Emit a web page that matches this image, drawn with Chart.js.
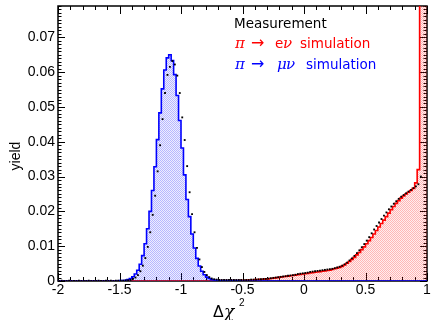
<!DOCTYPE html>
<html>
<head>
<meta charset="utf-8">
<script src="https://cdn.jsdelivr.net/npm/chart.js@4.4.1/dist/chart.umd.min.js"></script>
<style>
  html, body { margin: 0; padding: 0; background: #fff; }
  #wrap { width: 431px; height: 320px; }
</style>
</head>
<body>
<div id="wrap"><canvas id="chart"></canvas></div>
<script>
// 150 bins of 0.02 from -2 to 1
const binStart = -2;
const binWidth = 0.02;

// pi -> mu nu simulation (blue)
const muNuSim = [
  0, 0, 0, 0, 0, 0, 0, 0, 0, 0,
  0, 0, 0, 0, 0, 0, 0, 0, 0, 0,
  0, 0, 0, 0, 0, 0, 0.0001, 0.0001, 0.0002, 0.0004,
  0.0007, 0.0012, 0.0020, 0.0031, 0.0048, 0.0073, 0.0107, 0.0150, 0.0200, 0.0260,
  0.0328, 0.0406, 0.0483, 0.0552, 0.0606, 0.0641, 0.0650, 0.0633, 0.0593, 0.0533,
  0.0461, 0.0382, 0.0305, 0.0234, 0.0185, 0.0135, 0.0095, 0.0065, 0.0043, 0.0028,
  0.0018, 0.0011, 0.0007, 0.0004, 0.0003, 0.0002, 0.0001, 0.0001, 0.0001, 0.0001,
  0.0001, 0.0001, 0.0001, 0.0001, 0.0001, 0, 0, 0, 0, 0,
  0, 0, 0, 0, 0, 0, 0, 0, 0, 0,
  0, 0, 0, 0, 0, 0, 0, 0, 0, 0,
  0, 0, 0, 0, 0, 0, 0, 0, 0, 0,
  0, 0, 0, 0, 0, 0, 0, 0, 0, 0,
  0, 0, 0, 0, 0, 0, 0, 0, 0, 0,
  0, 0, 0, 0, 0, 0, 0, 0, 0, 0,
  0, 0, 0, 0, 0, 0, 0, 0, 0, 0
];

// pi -> e nu simulation (red), last two bins run off the top
const eNuSim = [
  0, 0, 0, 0, 0, 0, 0, 0, 0, 0,
  0, 0, 0, 0, 0, 0, 0, 0, 0, 0,
  0, 0, 0, 0, 0, 0, 0, 0, 0, 0,
  0, 0, 0, 0, 0, 0, 0, 0, 0, 0,
  0, 0, 0, 0, 0, 0, 0, 0, 0, 0,
  0, 0, 0, 0, 0, 0, 0, 0, 0, 0,
  0, 0, 0, 0, 0, 0.0001, 0.0001, 0.0001, 0.0001, 0.0001,
  0.0001, 0.0001, 0.0001, 0.0001, 0.0001, 0.0002, 0.0002, 0.0002, 0.0003, 0.0003,
  0.0003, 0.0004, 0.0004, 0.0005, 0.0005, 0.0006, 0.0006, 0.0007, 0.0008, 0.0009,
  0.0010, 0.0011, 0.0012, 0.0013, 0.0014, 0.0015, 0.0016, 0.0017, 0.0018, 0.0019,
  0.0020, 0.0021, 0.0022, 0.0023, 0.0024, 0.0025, 0.0026, 0.0027, 0.0028, 0.0029,
  0.0030, 0.0031, 0.0033, 0.0035, 0.0037, 0.0039, 0.0042, 0.0046, 0.0051, 0.0056,
  0.0062, 0.0068, 0.0075, 0.0082, 0.0090, 0.0098, 0.0107, 0.0116, 0.0125, 0.0135,
  0.0145, 0.0155, 0.0165, 0.0175, 0.0185, 0.0195, 0.0205, 0.0214, 0.0223, 0.0231,
  0.0238, 0.0244, 0.0250, 0.0255, 0.0260, 0.0266, 0.0282, 0.0320, 0.1200, 0.3000
];

// measurement (black points at bin centres)
const measured = [
  0, 0.0001, 0, 0, 0.0001, 0, 0, 0, 0.0001, 0,
  0, 0, 0.0001, 0, 0, 0, 0.0001, 0, 0, 0.0001,
  0, 0.0001, 0, 0.0001, 0.0001, 0.0001, 0.0001, 0.0002, 0.0002, 0.0003,
  0.0006, 0.0010, 0.0017, 0.0028, 0.0044, 0.0066, 0.0098, 0.0140, 0.0190, 0.0245,
  0.0315, 0.0390, 0.0465, 0.0540, 0.0592, 0.0615, 0.0632, 0.0622, 0.0590, 0.0540,
  0.0470, 0.0405, 0.0330, 0.0255, 0.0192, 0.0140, 0.0095, 0.0062, 0.0040, 0.0026,
  0.0017, 0.0011, 0.0007, 0.0005, 0.0004, 0.0003, 0.0003, 0.0003, 0.0003, 0.0003,
  0.0003, 0.0003, 0.0003, 0.0003, 0.0003, 0.0003, 0.0003, 0.0003, 0.0004, 0.0004,
  0.0004, 0.0005, 0.0005, 0.0006, 0.0006, 0.0007, 0.0008, 0.0009, 0.0010, 0.0011,
  0.0012, 0.0013, 0.0014, 0.0015, 0.0016, 0.0017, 0.0018, 0.0020, 0.0021, 0.0022,
  0.0023, 0.0024, 0.0026, 0.0027, 0.0028, 0.0029, 0.0030, 0.0031, 0.0032, 0.0033,
  0.0034, 0.0035, 0.0037, 0.0039, 0.0041, 0.0044, 0.0048, 0.0053, 0.0059, 0.0065,
  0.0072, 0.0080, 0.0088, 0.0097, 0.0106, 0.0116, 0.0126, 0.0137, 0.0148, 0.0158,
  0.0168, 0.0178, 0.0188, 0.0197, 0.0206, 0.0214, 0.0222, 0.0229, 0.0236, 0.0242,
  0.0247, 0.0252, 0.0257, 0.0262, 0.0267, 0.0272, 0.0278, 0.0300, null, null
];

const xTickValues = [-2, -1.5, -1, -0.5, 0, 0.5, 1];
const xTickLabels = ['-2', '-1.5', '-1', '-0.5', '0', '0.5', '1'];
const yTickValues = [0, 0.01, 0.02, 0.03, 0.04, 0.05, 0.06, 0.07];
const yTickLabels = ['0', '0.01', '0.02', '0.03', '0.04', '0.05', '0.06', '0.07'];

const canvas = document.getElementById('chart');
const ctx = canvas.getContext('2d');

function histPoints(vals) {
  const pts = vals.map((v, i) => ({ x: binStart + i * binWidth, y: v }));
  pts.push({ x: binStart + vals.length * binWidth, y: vals[vals.length - 1] });
  return pts;
}

// light dotted fill, like the ROOT hatch style
function dotFill(r, g, b) {
  const c = document.createElement('canvas');
  c.width = 2; c.height = 2;
  const p = c.getContext('2d');
  p.fillStyle = `rgba(${r},${g},${b},0.08)`;
  p.fillRect(0, 0, 2, 2);
  p.fillStyle = `rgba(${r},${g},${b},0.28)`;
  p.fillRect(0, 0, 1, 1);
  p.fillRect(1, 1, 1, 1);
  return ctx.createPattern(c, 'repeat');
}

// ROOT-like frame with inward ticks on all four sides
const rootFrame = {
  id: 'rootFrame',
  beforeDatasetsDraw(chart) {
    const { ctx, chartArea: a, scales: { x, y } } = chart;
    ctx.save();
    ctx.strokeStyle = '#000';
    ctx.lineWidth = 1;
    ctx.beginPath();
    for (let k = -20; k <= 10; k++) {
      const px = Math.round(x.getPixelForValue(k / 10)) + 0.5;
      const len = k % 5 === 0 ? 8 : 4;
      ctx.moveTo(px, a.bottom); ctx.lineTo(px, a.bottom - len);
      ctx.moveTo(px, a.top); ctx.lineTo(px, a.top + len);
    }
    for (let k = 0; k <= 79; k++) {
      const py = Math.round(y.getPixelForValue(k / 1000)) + 0.5;
      const len = k % 10 === 0 ? 7 : 3.5;
      ctx.moveTo(a.left, py); ctx.lineTo(a.left + len, py);
      ctx.moveTo(a.right, py); ctx.lineTo(a.right - len, py);
    }
    ctx.stroke();
    ctx.lineWidth = 1.5;
    ctx.strokeRect(a.left, a.top, a.right - a.left, a.bottom - a.top);
    ctx.restore();
  }
};

// legend text and axis titles
const labels = {
  id: 'labels',
  afterDraw(chart) {
    const { ctx } = chart;
    const sans = '"DejaVu Sans", sans-serif';
    const serifIt = 'italic 15px "DejaVu Serif", serif';
    ctx.save();
    ctx.textBaseline = 'alphabetic';
    ctx.textAlign = 'left';

    ctx.fillStyle = '#000';
    ctx.font = '13.5px ' + sans;
    ctx.fillText('Measurement', 234, 28);

    ctx.fillStyle = '#ff0000';
    ctx.font = serifIt; ctx.fillText('π', 235, 48);
    ctx.font = '16px ' + sans; ctx.fillText('→', 251, 48);
    ctx.font = '13.5px ' + sans; ctx.fillText('e', 275, 48);
    ctx.font = serifIt; ctx.fillText('ν', 283, 48);
    ctx.font = '13.5px ' + sans; ctx.fillText('simulation', 300, 48);

    ctx.fillStyle = '#0000ff';
    ctx.font = serifIt; ctx.fillText('π', 235, 69);
    ctx.font = '16px ' + sans; ctx.fillText('→', 251, 69);
    ctx.font = serifIt; ctx.fillText('μ', 277, 69);
    ctx.font = serifIt; ctx.fillText('ν', 286, 69);
    ctx.font = '13.5px ' + sans; ctx.fillText('simulation', 306, 69);

    // x title
    ctx.fillStyle = '#000';
    ctx.font = '16px "Liberation Sans", sans-serif';
    ctx.fillText('Δ', 213, 317);
    ctx.font = 'italic 17px "DejaVu Serif", serif';
    ctx.fillText('χ', 224, 317);
    ctx.font = '10px "Liberation Sans", sans-serif';
    ctx.fillText('2', 239, 306);

    // y title
    ctx.translate(20, 156);
    ctx.rotate(-Math.PI / 2);
    ctx.textAlign = 'center';
    ctx.font = '14px "Liberation Sans", sans-serif';
    ctx.fillText('yield', 0, 0);
    ctx.restore();
  }
};

new Chart(ctx, {
  type: 'line',
  data: {
    datasets: [
      {
        label: 'Measurement',
        data: measured.map((v, i) => ({ x: binStart + (i + 0.5) * binWidth, y: v })),
        showLine: false,
        pointStyle: 'rect',
        pointRadius: 1.3,
        pointBackgroundColor: '#000',
        pointBorderWidth: 0
      },
      {
        label: 'pi -> mu nu simulation',
        data: histPoints(muNuSim),
        stepped: 'after',
        borderColor: '#0000ff',
        borderWidth: 1.6,
        backgroundColor: dotFill(40, 40, 255),
        fill: 'origin',
        pointRadius: 0
      },
      {
        label: 'pi -> e nu simulation',
        data: histPoints(eNuSim),
        stepped: 'after',
        borderColor: '#ff0000',
        borderWidth: 1.6,
        backgroundColor: dotFill(255, 40, 40),
        fill: 'origin',
        pointRadius: 0
      }
    ]
  },
  options: {
    responsive: true,
    maintainAspectRatio: false,
    animation: false,
    events: [],
    layout: { padding: { left: 0, right: 1, top: 6, bottom: 0 } },
    plugins: {
      legend: { display: false },
      tooltip: { enabled: false }
    },
    scales: {
      x: {
        type: 'linear',
        min: -2,
        max: 1,
        grid: { display: false, drawTicks: false },
        border: { display: false },
        ticks: {
          autoSkip: false,
          maxRotation: 0,
          padding: 1,
          color: '#000',
          font: { family: '"Liberation Sans", Arial, sans-serif', size: 14 },
          callback: (v, i) => xTickLabels[i]
        },
        afterBuildTicks: s => { s.ticks = xTickValues.map(v => ({ value: v })); },
        afterFit: s => { s.height = 39; s.paddingLeft = 0; s.paddingRight = 0; }
      },
      y: {
        type: 'linear',
        min: 0,
        max: 0.079,
        grid: { display: false, drawTicks: false },
        border: { display: false },
        ticks: {
          includeBounds: false,
          padding: 3,
          color: '#000',
          font: { family: '"Liberation Sans", Arial, sans-serif', size: 14 },
          callback: (v, i) => yTickLabels[i]
        },
        afterBuildTicks: s => { s.ticks = yTickValues.map(v => ({ value: v })); },
        afterFit: s => { s.width = 58; s.paddingTop = 0; s.paddingBottom = 0; }
      }
    }
  },
  plugins: [rootFrame, labels]
});
</script>
</body>
</html>
